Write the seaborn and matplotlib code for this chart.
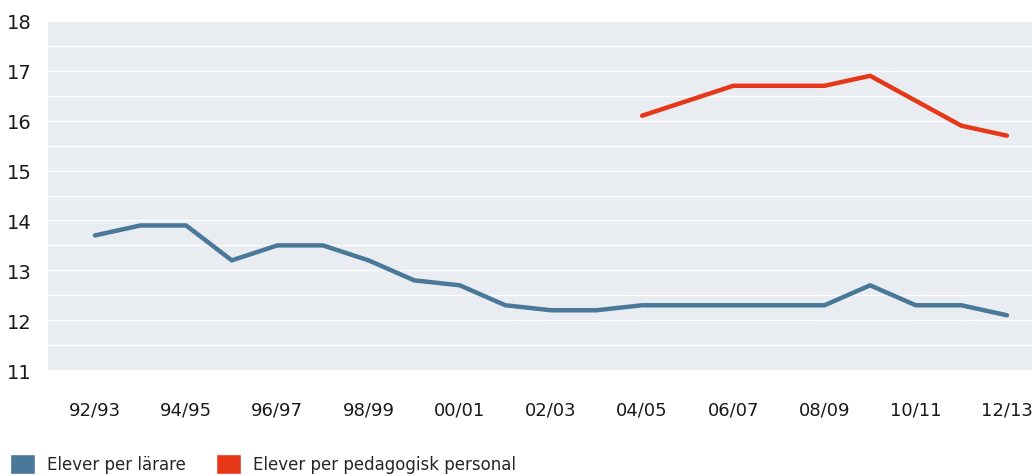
import numpy as np
import pandas as pd
import matplotlib
matplotlib.use('Agg')
import matplotlib.pyplot as plt
from matplotlib.patches import Patch
import seaborn as sns

# DATA -------------------------------------------------
years = ['92/93', '93/94', '94/95', '95/96', '96/97', '97/98', '98/99', '99/00',
         '00/01', '01/02', '02/03', '03/04', '04/05', '05/06', '06/07', '07/08',
         '08/09', '09/10', '10/11', '11/12', '12/13']
per_larare = [13.7, 13.9, 13.9, 13.2, 13.5, 13.5, 13.2, 12.8, 12.7, 12.3, 12.2,
              12.2, 12.3, 12.3, 12.3, 12.3, 12.3, 12.7, 12.3, 12.3, 12.1]
per_ped = [np.nan] * 12 + [16.1, 16.4, 16.7, 16.7, 16.7, 16.9, 16.4, 15.9, 15.7]
tick_labels = years[::2]

blue = '#4a7898'
red = '#e63719'
bg = '#e9ecf1'

df = pd.DataFrame({'pos': np.arange(len(years)), 'larare': per_larare, 'ped': per_ped})

sns.set_style('white')
plt.rcParams['font.family'] = ['DejaVu Sans']

fig, ax = plt.subplots(figsize=(10.32, 4.77), dpi=100)
fig.subplots_adjust(left=0.0465, right=1.0, top=0.954, bottom=0.222)
ax.set_facecolor(bg)

sns.lineplot(data=df, x='pos', y='larare', color=blue, linewidth=3.2, ax=ax)
sns.lineplot(data=df.dropna(), x='pos', y='ped', color=red, linewidth=3.2, ax=ax,
             solid_capstyle='round')

ax.set_ylim(11, 18)
ax.set_xlim(-1.03, 20.55)
ax.set_yticks(range(11, 19))
ax.set_yticks(np.arange(11.5, 18, 1), minor=True)
ax.grid(axis='y', which='both', color='white', linewidth=0.9)
ax.set_axisbelow(True)
ax.set_xticks(df['pos'][::2])
ax.set_xticklabels(tick_labels)
ax.tick_params(axis='both', which='both', length=0, labelsize=13, colors='#1a1a1a')
ax.tick_params(axis='y', labelsize=14, pad=12)
ax.tick_params(axis='x', pad=22)
ax.set_xlabel('')
ax.set_ylabel('')
for s in ax.spines.values():
    s.set_visible(False)

handles = [Patch(facecolor=blue, label='Elever per lärare'),
           Patch(facecolor=red, label='Elever per pedagogisk personal')]
fig.legend(handles=handles, loc='lower left', bbox_to_anchor=(-0.002, -0.02), ncol=2,
           frameon=False, fontsize=12, handlelength=1.5, handleheight=1.5,
           handletextpad=0.75, columnspacing=1.8, borderaxespad=0.3)

fig.savefig('out.png', dpi=100)
